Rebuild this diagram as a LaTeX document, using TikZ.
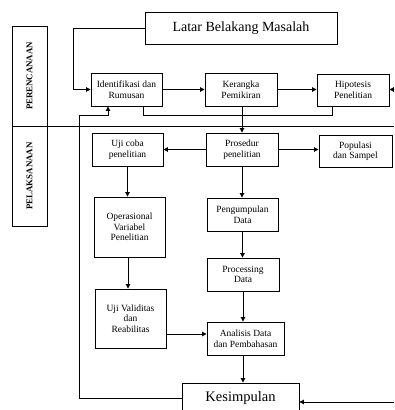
\documentclass[tikz,border=0pt]{standalone}
\usepackage{fontspec}
\setmainfont{Liberation Serif}
\usetikzlibrary{arrows.meta,calc}
\tikzset{
  bx/.style={draw, line width=0.9pt, align=center, inner sep=0pt, font=\fontsize{9.5}{10.5}\selectfont},
  lane/.style={draw, line width=0.6pt, rotate=90, inner sep=0pt, minimum width=100pt, minimum height=35pt, font=\bfseries\fontsize{8.8}{10}\selectfont},
  ln/.style={line width=0.9pt},
  ar/.style={ln, -{Triangle[length=4.5pt,width=4.5pt]}},
}
\begin{document}
\begin{tikzpicture}[x=1pt,y=-1pt]
\useasboundingbox (0,0) rectangle (394,410);
\clip (0,0) rectangle (394,410);
% lanes
\node[lane] (plan) at (29.5,76) {PERENCANAAN};
\node[lane] (exec) at (29.5,176) {PELAKSANAAN};
\coordinate (divL) at (12,126);
\coordinate (divR) at (394,126);
\draw[ln] (divL) -- (divR);
% boxes
\node[bx, minimum width=192pt, minimum height=32pt, font=\fontsize{14}{16}\selectfont] (latar) at (241,28) {Latar Belakang Masalah};
\node[bx, minimum width=71pt, minimum height=33pt] (ident) at (126.5,89.5) {Identifikasi dan\\Rumusan};
\node[bx, minimum width=72pt, minimum height=33pt] (keran) at (241,89.5) {Kerangka\\Pemikiran};
\node[bx, minimum width=72pt, minimum height=32pt] (hipo) at (353,90) {Hipotesis\\Penelitian};
\node[bx, minimum width=72pt, minimum height=33pt] (pros) at (242,149.5) {Prosedur\\penelitian};
\node[bx, minimum width=71pt, minimum height=33pt] (uji) at (127.5,149.5) {Uji coba\\penelitian};
\node[bx, minimum width=73pt, minimum height=32pt] (popu) at (355.5,151) {Populasi\\dan Sampel};
\node[bx, minimum width=71pt, minimum height=60pt] (oper) at (129.5,227) {Operasional\\Variabel\\Penelitian};
\node[bx, minimum width=71pt, minimum height=59pt] (valid) at (130.5,318.5) {Uji Validitas\\dan\\Reabilitas};
\node[bx, minimum width=71pt, minimum height=33pt] (pengum) at (242.5,214.5) {Pengumpulan\\Data};
\node[bx, minimum width=72pt, minimum height=33pt] (proc) at (243,274.5) {Processing\\Data};
\node[bx, minimum width=77pt, minimum height=33pt] (anal) at (245.5,338.5) {Analisis Data\\dan Pembahasan};
\node[bx, minimum width=117pt, minimum height=30pt, font=\fontsize{14.5}{16}\selectfont] (kes) at (240.5,398) {Kesimpulan};
% free ends
\coordinate (hipoIn) at (394,89.5);
\coordinate (kesIn) at (394,402);
\coordinate (validOut) at ([yshift=-15.5pt]valid.east);
% connectors
\draw[ar] (latar.west) -- (73,28) |- (ident.west);
\draw[ar] (ident.east) -- (keran.west);
\draw[ar] (keran.east) -- (hipo.west |- keran.east);
\draw[ar] (hipoIn) -- (hipo.east |- hipoIn);
\draw[ln] ([xshift=16.5pt]ident.south) -- ++(0,9) -| ([xshift=-21pt]hipo.south);
\draw[ar] ([xshift=1pt]keran.south) -- ([xshift=1pt]keran.south |- pros.north);
\draw[ar] (pros.west) -- (uji.east);
\draw[ar] (pros.east) -- (popu.west |- pros.east);
\draw[ar] (uji.south) -- (uji.south |- oper.north);
\draw[ar] ([xshift=-1.5pt]oper.south) -- ([xshift=-1.5pt]oper.south |- valid.north);
\draw[ar] (validOut) -- (anal.west |- validOut);
\draw[ar] (pros.south) -- (pros.south |- pengum.north);
\draw[ar] (pengum.south) -- (pengum.south |- proc.north);
\draw[ar] (proc.south) -- (proc.south |- anal.north);
\draw[ar] ([xshift=-2.5pt]anal.south) -- ([xshift=-2.5pt]anal.south |- kes.north);
\draw[ar] (kesIn) -- (kes.east |- kesIn);
\draw[ar] (kes.west) -- (79,398) -- (79,115) -| ([xshift=-18.5pt]ident.south);
\end{tikzpicture}
\end{document}
